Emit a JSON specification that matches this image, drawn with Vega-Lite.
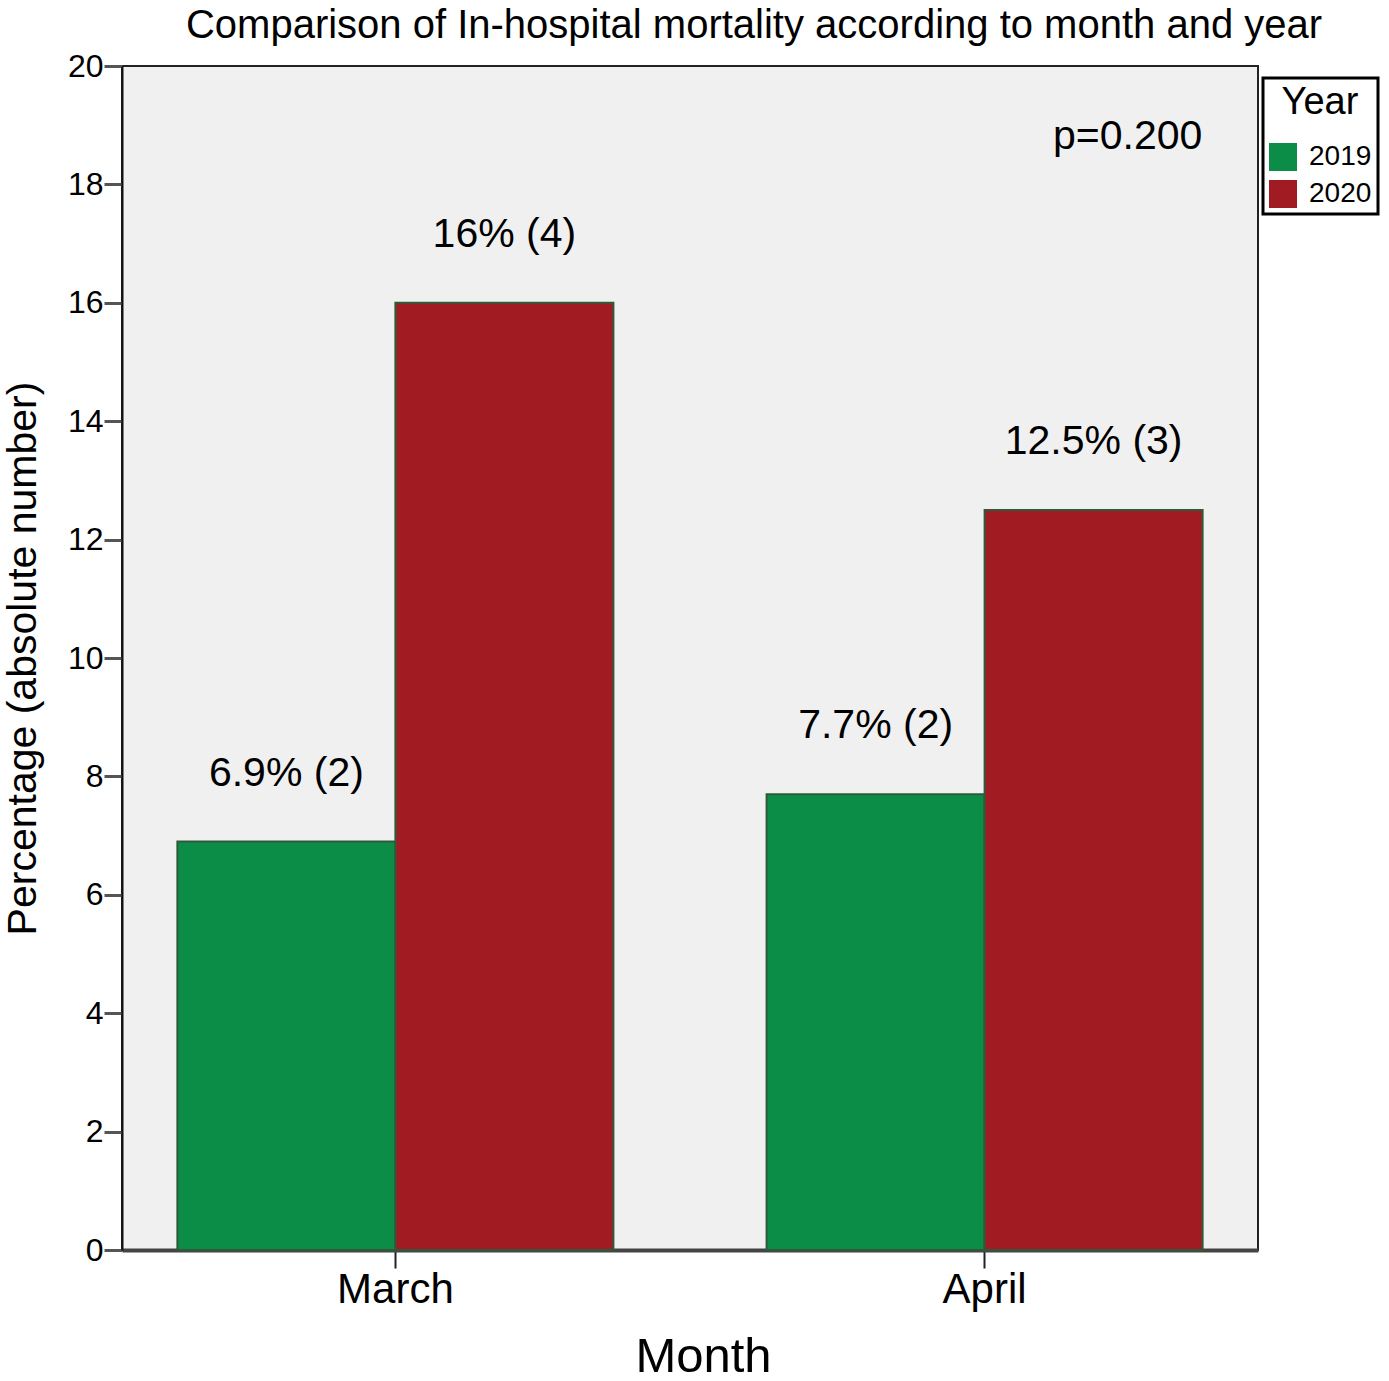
{
  "$schema": "https://vega.github.io/schema/vega-lite/v6.json",
  "width": 1136,
  "height": 1184,
  "autosize": {"type": "none"},
  "padding": {"left": 122, "top": 66, "right": 131, "bottom": 131},
  "background": "white",
  "config": {
    "font": "Liberation Sans",
    "view": {"fill": "#f0f0f0", "stroke": "#222222", "strokeWidth": 2},
    "legend": {"strokeWidth": 3}
  },
  "title": {
    "text": "Comparison of In-hospital mortality according to month and year",
    "fontSize": 40,
    "fontWeight": "normal",
    "color": "black",
    "anchor": "middle",
    "dx": 64,
    "offset": 4
  },
  "data": {
    "values": [
      {"month": "March", "year": "2019", "pct": 6.9, "label": "6.9% (2)"},
      {"month": "March", "year": "2020", "pct": 16, "label": "16% (4)"},
      {"month": "April", "year": "2019", "pct": 7.7, "label": "7.7% (2)"},
      {"month": "April", "year": "2020", "pct": 12.5, "label": "12.5% (3)"}
    ]
  },
  "encoding": {
    "x": {
      "field": "month",
      "type": "nominal",
      "sort": ["March", "April"],
      "scale": {"paddingInner": 0.26, "paddingOuter": 0.094},
      "axis": {
        "title": "Month",
        "titleFontSize": 49,
        "titleFontWeight": "normal",
        "titleColor": "black",
        "titlePadding": 22,
        "titleX": 581,
        "labelAngle": 0,
        "labelFontSize": 42,
        "labelColor": "black",
        "labelPadding": 1,
        "tickSize": 18,
        "tickColor": "#222222",
        "tickWidth": 2,
        "domainColor": "#444444",
        "domainWidth": 4
      }
    },
    "xOffset": {"field": "year", "type": "nominal", "sort": ["2019", "2020"]},
    "y": {
      "field": "pct",
      "type": "quantitative",
      "scale": {"domain": [0, 20]},
      "axis": {
        "title": "Percentage (absolute number)",
        "titleFontSize": 41,
        "titleFontWeight": "normal",
        "titleColor": "black",
        "titleX": -78,
        "values": [0, 2, 4, 6, 8, 10, 12, 14, 16, 18, 20],
        "grid": false,
        "labelFontSize": 32,
        "labelColor": "black",
        "labelPadding": 1,
        "tickSize": 18,
        "tickColor": "#555555",
        "tickWidth": 3,
        "domainColor": "#111111",
        "domainWidth": 2
      }
    }
  },
  "layer": [
    {
      "mark": {"type": "bar", "stroke": "#2f5a3a", "strokeWidth": 2},
      "encoding": {
        "color": {
          "field": "year",
          "type": "nominal",
          "scale": {"domain": ["2019", "2020"], "range": ["#0b8c47", "#a01c22"]},
          "legend": {
            "orient": "none",
            "legendX": 1141,
            "legendY": 12,
            "title": "Year",
            "titleFontSize": 38,
            "titleFontWeight": "normal",
            "titleColor": "black",
            "titleAnchor": "middle",
            "titlePadding": 21,
            "labelFontSize": 28,
            "labelColor": "black",
            "labelOffset": 12,
            "symbolType": "square",
            "symbolSize": 784,
            "symbolStrokeWidth": 0,
            "rowPadding": 9,
            "padding": 6,
            "strokeColor": "black",
            "fillColor": "white"
          }
        }
      }
    },
    {
      "mark": {"type": "text", "fontSize": 41, "dy": -68, "color": "black"},
      "encoding": {"text": {"field": "label", "type": "nominal"}}
    },
    {
      "data": {"values": [{"month": "April", "year": "2020", "pct": 18.8, "label": "p=0.200"}]},
      "mark": {"type": "text", "fontSize": 41, "dx": 34, "color": "black"},
      "encoding": {"text": {"field": "label", "type": "nominal"}}
    }
  ]
}
